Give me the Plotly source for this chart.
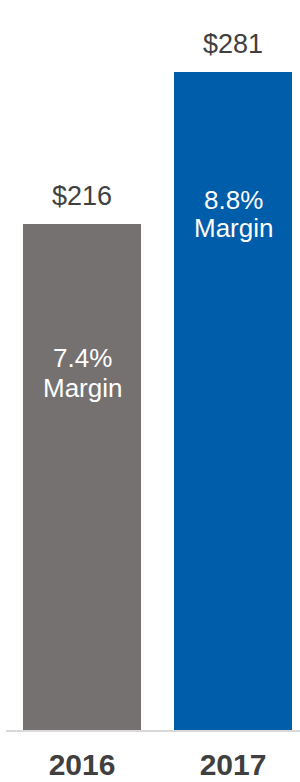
import plotly.graph_objects as go

years = ["2016", "2017"]
values = [216, 281]
value_labels = ["$216", "$281"]
margins = ["7.4%", "8.8%"]
margin_word = "Margin"
colors = ["#767171", "#005DAA"]

W, H = 300, 782
mt, mb, ml, mr = 0, 52, 6, 0
plot_h = H - mt - mb
px_per_unit = 658 / 281.0
ymax = plot_h / px_per_unit

# x scaling: bar centres at 82 and 233 px
px_per_cat = 151.0
xmin = -(82 - ml) / px_per_cat
xmax = (W - mr - 82) / px_per_cat

fig = go.Figure()
fig.add_trace(go.Bar(
    x=[0, 1], y=values, width=118 / px_per_cat,
    marker=dict(color=colors, line=dict(width=0)),
    hoverinfo="skip",
))

font = "Liberation Sans, Arial, sans-serif"
ann = []
# value labels above bars
for i, (v, lab) in enumerate(zip(values, value_labels)):
    ann.append(dict(x=i, y=v, text=lab, showarrow=False, xanchor="center",
                    yanchor="middle", yshift=28,
                    font=dict(family=font, size=27, color="#404040")))
# margin texts inside bars
offsets = [(-134, -164), (-128, -156)]
for i, (v, m) in enumerate(zip(values, margins)):
    o1, o2 = offsets[i]
    ann.append(dict(x=i, y=v, text=m, showarrow=False, xanchor="center",
                    yanchor="middle", yshift=o1,
                    font=dict(family=font, size=26, color="white")))
    ann.append(dict(x=i, y=v, text=margin_word, showarrow=False, xanchor="center",
                    yanchor="middle", yshift=o2,
                    font=dict(family=font, size=26, color="white")))

fig.update_layout(
    width=W, height=H,
    margin=dict(l=ml, r=mr, t=mt, b=mb, pad=0, autoexpand=False),
    paper_bgcolor="white", plot_bgcolor="white",
    showlegend=False,
    bargap=0,
    annotations=ann,
    xaxis=dict(range=[xmin, xmax], tickmode="array", tickvals=[0, 1], ticktext=["<b>%s</b>" % y for y in years],
               tickfont=dict(family=font, size=30, color="#404040"),
               ticklabelstandoff=7,
               showline=True, linecolor="#d9d9d9", linewidth=2, showgrid=False,
               zeroline=False, ticks="", ticklen=0, fixedrange=True, automargin=False),
    yaxis=dict(range=[0, ymax], visible=False, showgrid=False, zeroline=False, fixedrange=True, automargin=False),
)

fig.write_html("out.html", config={"displayModeBar": False},
               post_script="document.body.style.margin='0';document.body.style.overflow='hidden';")
